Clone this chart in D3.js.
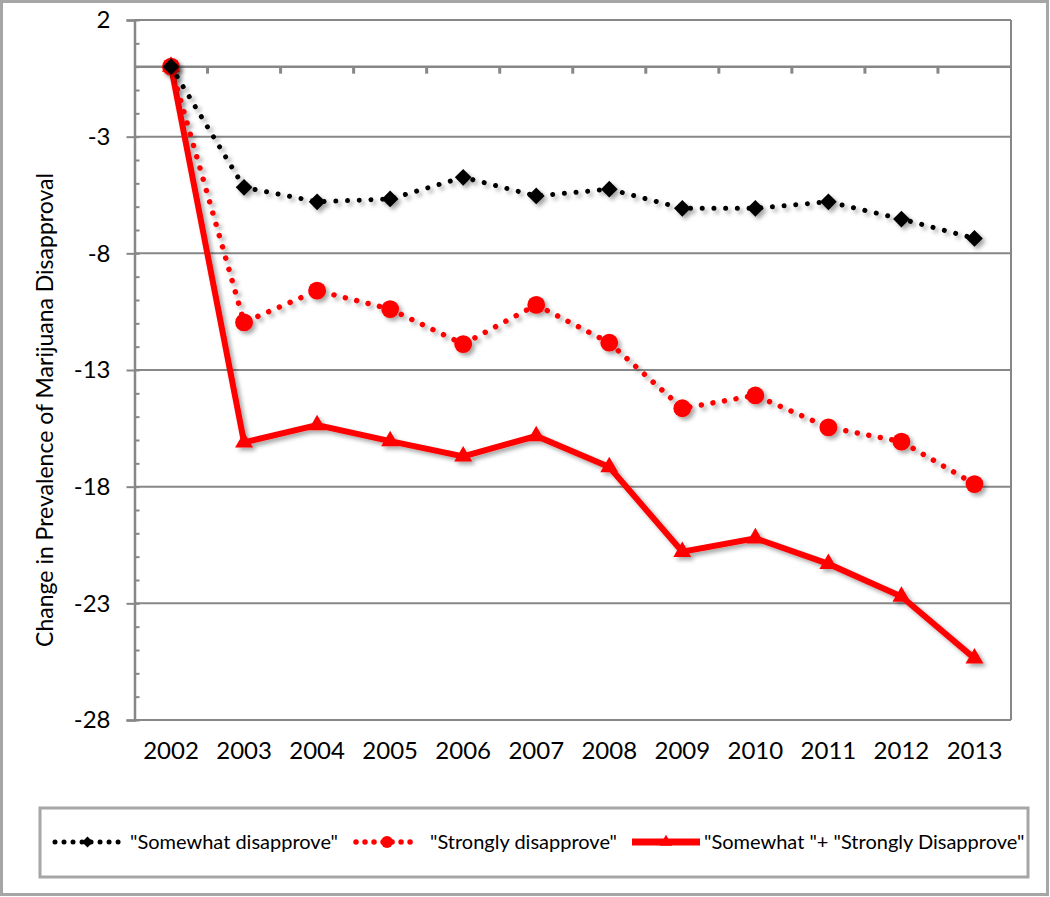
<!DOCTYPE html>
<html>
<head>
<meta charset="utf-8">
<script src="https://cdn.jsdelivr.net/npm/d3@7"></script>
<style>
  html, body { margin: 0; padding: 0; background: #fff; }
  svg { display: block; font-family: Lato, "Open Sans", sans-serif; }
</style>
</head>
<body>
<svg id="chart" width="1050" height="897"></svg>
<script>
// ---- data ----
const years = ["2002","2003","2004","2005","2006","2007","2008","2009","2010","2011","2012","2013"];
const somewhatDisapprove = [0, -5.17, -5.79, -5.67, -4.74, -5.54, -5.25, -6.07, -6.07, -5.79, -6.53, -7.36];
const stronglyDisapprove = [0, -10.96, -9.60, -10.39, -11.89, -10.21, -11.83, -14.64, -14.09, -15.46, -16.07, -17.89];
const combinedDisapprove = [0, -16.10, -15.36, -16.05, -16.70, -15.83, -17.16, -20.79, -20.21, -21.31, -22.71, -25.36];
const yTickValues = [2, -3, -8, -13, -18, -23, -28];
const seriesNames = ['"Somewhat disapprove"', '"Strongly disapprove"', '"Somewhat "+ "Strongly Disapprove"'];
const yTitle = "Change in Prevalence of Marijuana Disapproval";

// ---- layout ----
const svg = d3.select("#chart");
const W = 1050, H = 897;
const plot = { left: 134.5, right: 1011, top: 20, bottom: 720 };
const gridColor = "#878787";
const tickFont = 24;

const x = d3.scaleBand().domain(years).range([plot.left, plot.right]).padding(0);
const y = d3.scaleLinear().domain([-28, 2]).range([plot.bottom, plot.top]);
const cx = d => x(d) + x.bandwidth() / 2;

// defs: drop shadow
const defs = svg.append("defs");
const f = defs.append("filter").attr("id", "shadow")
  .attr("x", "-10%").attr("y", "-10%").attr("width", "130%").attr("height", "130%");
f.append("feDropShadow").attr("dx", 3).attr("dy", 3).attr("stdDeviation", 2)
  .attr("flood-color", "#000").attr("flood-opacity", 0.35);

// background + outer border
svg.append("rect").attr("x", 1.5).attr("y", 1.5).attr("width", W - 4).attr("height", H - 4)
  .attr("fill", "#fff").attr("stroke", "#a6a6a6").attr("stroke-width", 3);

// gridlines (major)
svg.append("g").selectAll("line").data(yTickValues).join("line")
  .attr("x1", plot.left).attr("x2", plot.right)
  .attr("y1", d => y(d)).attr("y2", d => y(d))
  .attr("stroke", gridColor).attr("stroke-width", 2);

// right border of plot area
svg.append("line").attr("x1", plot.right).attr("x2", plot.right)
  .attr("y1", y(2)).attr("y2", y(-28))
  .attr("stroke", gridColor).attr("stroke-width", 2);

// y axis: minor ticks (inside)
const minorAxis = d3.axisRight(y).tickValues(d3.range(-28, 3, 1)).tickSize(5).tickFormat("");
const gMinor = svg.append("g").attr("transform", `translate(${plot.left},0)`).call(minorAxis);
gMinor.select(".domain").remove();
gMinor.selectAll("line").attr("stroke", gridColor).attr("stroke-width", 2);

// y axis: major ticks + labels
const yAxis = d3.axisLeft(y).tickValues(yTickValues).tickSize(8).tickPadding(16).tickFormat(d3.format("d"));
const gY = svg.append("g").attr("transform", `translate(${plot.left},0)`).call(yAxis);
gY.select(".domain").attr("stroke", gridColor).attr("stroke-width", 2.5);
gY.selectAll(".tick line").attr("stroke", gridColor).attr("stroke-width", 2);
gY.selectAll("text").attr("font-size", tickFont).attr("fill", "#000")
  .attr("font-family", "Lato, 'Open Sans', sans-serif").text(d => d < 0 ? "-" + Math.abs(d) : d);

// x axis line at zero with boundary ticks
svg.append("line").attr("x1", plot.left).attr("x2", plot.right)
  .attr("y1", y(0)).attr("y2", y(0))
  .attr("stroke", gridColor).attr("stroke-width", 2.5);
svg.append("g").selectAll("line").data(years.slice(1)).join("line")
  .attr("x1", d => x(d)).attr("x2", d => x(d))
  .attr("y1", y(0)).attr("y2", y(0) + 7)
  .attr("stroke", gridColor).attr("stroke-width", 3);

// x labels at bottom
const xAxis = d3.axisBottom(x).tickSize(0).tickPadding(22);
const gX = svg.append("g").attr("transform", `translate(0,${plot.bottom})`).call(xAxis);
gX.select(".domain").remove();
gX.selectAll("text").attr("font-size", tickFont).attr("fill", "#000")
  .attr("font-family", "Lato, 'Open Sans', sans-serif");

// y axis title
svg.append("text")
  .attr("transform", `translate(53,410) rotate(-90)`)
  .attr("text-anchor", "middle")
  .attr("font-size", 23).attr("fill", "#000")
  .text(yTitle);

// ---- series ----
const diamond = d3.symbol().type(d3.symbolSquare).size(140);
const circle = d3.symbol().type(d3.symbolCircle).size(250);
const triangle = d3.symbol().type(d3.symbolTriangle).size(140);

const series = [
  { values: combinedDisapprove, color: "#ff0000", width: 6, dash: null, marker: triangle, rotate: 0 },
  { values: stronglyDisapprove, color: "#ff0000", width: 5.5, dash: "0.01 11.7", marker: circle, rotate: 0 },
  { values: somewhatDisapprove, color: "#000000", width: 5, dash: "0.01 11.7", marker: diamond, rotate: 45 }
];

const line = d3.line().x((d, i) => cx(years[i])).y(d => y(d));

series.forEach(s => {
  const g = svg.append("g").attr("filter", "url(#shadow)");
  g.append("path").datum(s.values)
    .attr("d", line)
    .attr("fill", "none")
    .attr("stroke", s.color)
    .attr("stroke-width", s.width)
    .attr("stroke-linecap", s.dash ? "round" : "butt")
    .attr("stroke-linejoin", "miter")
    .attr("stroke-dasharray", s.dash);
  g.selectAll("path.m").data(s.values).join("path").attr("class", "m")
    .attr("transform", (d, i) => `translate(${cx(years[i])},${y(d)}) rotate(${s.rotate})`)
    .attr("d", s.marker())
    .attr("fill", s.color);
});

// ---- legend ----
svg.append("rect").attr("x", 40).attr("y", 808).attr("width", 988).attr("height", 69)
  .attr("fill", "#fff").attr("stroke", "#a6a6a6").attr("stroke-width", 3);

const legendItems = [
  { name: seriesNames[0], color: "#000", width: 5, dash: "0.01 9", marker: d3.symbol().type(d3.symbolSquare).size(60), rotate: 45, x0: 55, x1: 120, tx: 130 },
  { name: seriesNames[1], color: "#ff0000", width: 5.5, dash: "0.01 9", marker: d3.symbol().type(d3.symbolCircle).size(110), rotate: 0, x0: 356, x1: 418, tx: 430 },
  { name: seriesNames[2], color: "#ff0000", width: 7, dash: null, marker: d3.symbol().type(d3.symbolTriangle).size(70), rotate: 0, x0: 632, x1: 700, tx: 704 }
];
const ly = 842;
legendItems.forEach(it => {
  svg.append("line").attr("x1", it.x0).attr("x2", it.x1).attr("y1", ly).attr("y2", ly)
    .attr("stroke", it.color).attr("stroke-width", it.width)
    .attr("stroke-linecap", it.dash ? "round" : "butt")
    .attr("stroke-dasharray", it.dash);
  svg.append("path").attr("d", it.marker())
    .attr("transform", `translate(${(it.x0 + it.x1) / 2},${ly}) rotate(${it.rotate})`)
    .attr("fill", it.color);
  svg.append("text").attr("x", it.tx).attr("y", ly).attr("dy", "0.35em")
    .attr("font-size", 20).attr("fill", "#000").text(it.name);
});
</script>
</body>
</html>
